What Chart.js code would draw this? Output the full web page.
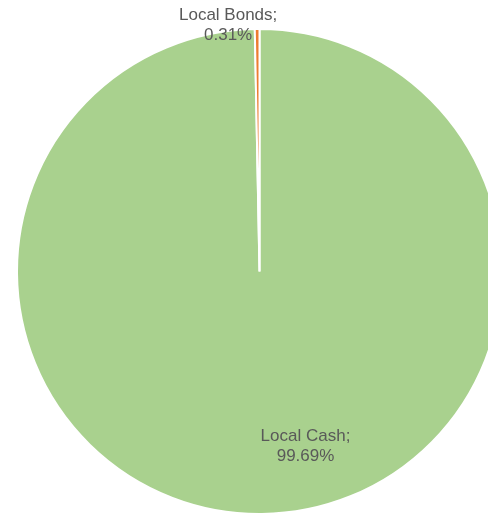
<!DOCTYPE html>
<html>
<head>
<meta charset="utf-8">
<script src="https://cdn.jsdelivr.net/npm/chart.js@4.4.1/dist/chart.umd.min.js"></script>
<style>
  html, body { margin: 0; padding: 0; background: #ffffff; overflow: hidden; }
  #wrap { width: 488px; height: 515px; overflow: hidden; position: relative; }
  #holdings { display: block; }
</style>
</head>
<body>
<div id="wrap">
  <canvas id="holdings" width="520" height="515"></canvas>
</div>
<script>
// slice order follows the original: cash first, bonds closes the circle at the top
const categories = ["Local Cash", "Local Bonds"];
const shares = [99.69, 0.31];
const sliceColors = ["#A9D18E", "#ED7D31"];

// label placement relative to the slice (in px from pie centre / outer edge)
const labelPlacement = {
  "Local Cash": { from: "center", dx: 46, dy: 175 },
  "Local Bonds": { from: "edge", dx: -29, dy: -4 }
};

const pieLabels = {
  id: "pieLabels",
  afterDatasetsDraw(chart) {
    const ctx = chart.ctx;
    const meta = chart.getDatasetMeta(0);
    ctx.save();
    ctx.font = "17px 'Liberation Sans', Arial, sans-serif";
    ctx.fillStyle = "#595959";
    ctx.textAlign = "center";
    ctx.textBaseline = "middle";
    meta.data.forEach((arc, i) => {
      const name = categories[i];
      const p = labelPlacement[name];
      let x, y;
      if (p.from === "edge") {
        const mid = (arc.startAngle + arc.endAngle) / 2;
        x = arc.x + Math.cos(mid) * arc.outerRadius + p.dx;
        y = arc.y + Math.sin(mid) * arc.outerRadius + p.dy;
      } else {
        x = arc.x + p.dx;
        y = arc.y + p.dy;
      }
      ctx.fillText(name + ";", x, y - 10);
      ctx.fillText(shares[i].toFixed(2) + "%", x, y + 10);
    });
    ctx.restore();
  }
};

let ctx = document.getElementById("holdings").getContext("2d");
let holdingsChart = new Chart(ctx, {
  type: "pie",
  data: {
    labels: categories,
    datasets: [{
      data: shares,
      backgroundColor: sliceColors,
      borderColor: "#ffffff",
      borderWidth: 2,
      hoverOffset: 0
    }]
  },
  options: {
    responsive: false,
    animation: false,
    layout: { padding: { left: 16, right: 17, top: 28, bottom: 0 } },
    plugins: {
      legend: { display: false },
      tooltip: { enabled: false }
    }
  },
  plugins: [pieLabels]
});
</script>
</body>
</html>
